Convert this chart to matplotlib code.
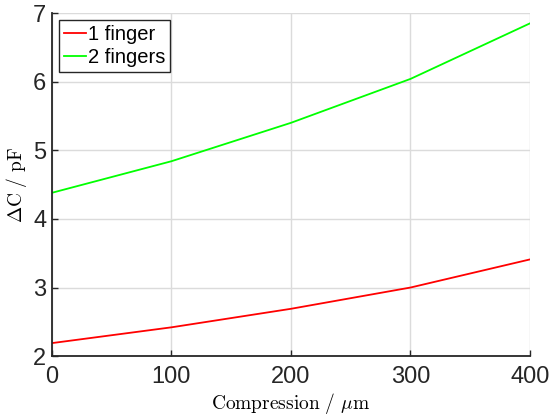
import matplotlib
matplotlib.use('Agg')
import matplotlib.pyplot as plt

# Capacitance change vs compression
compression = [0, 100, 200, 300, 400]
one_finger = [2.19, 2.42, 2.69, 3.00, 3.41]
two_fingers = [4.38, 4.84, 5.40, 6.04, 6.85]

plt.rcParams.update({
    'font.family': 'Liberation Sans',
    'mathtext.fontset': 'cm',
    'axes.edgecolor': '0.15',
    'xtick.color': '0.15',
    'ytick.color': '0.15',
})

fig = plt.figure(figsize=(5.51, 4.2), dpi=100)
ax = fig.add_axes([0.094, 0.152, 0.868, 0.817])

ax.plot(compression, one_finger, color='#ff0000', lw=1.3, label='1 finger')
ax.plot(compression, two_fingers, color='#00ff00', lw=1.3, label='2 fingers')

ax.set_xlim(0, 400)
ax.set_ylim(2, 7)
ax.set_xticks([0, 100, 200, 300, 400])
ax.set_yticks([2, 3, 4, 5, 6, 7])
ax.grid(True, color='0.86', lw=1.0)
ax.set_axisbelow(True)
for side in ['top', 'right']:
    ax.spines[side].set_visible(False)
for side in ['left', 'bottom']:
    ax.spines[side].set_linewidth(1.3)
ax.tick_params(direction='in', length=4, width=1.0, labelsize=17)
ax.tick_params(axis='x', pad=7)
ax.tick_params(axis='y', pad=4)

ax.set_xlabel(r'$\mathrm{Compression}\ /\ \mu\mathrm{m}$', fontsize=14, labelpad=2)
ax.set_ylabel(r'$\Delta\mathrm{C}\ /\ \mathrm{pF}$', fontsize=14, labelpad=3)

leg = ax.legend(loc='upper left', fontsize=14.5, fancybox=False, framealpha=1,
                handlelength=1.1, handletextpad=0.1, borderpad=0.25,
                labelspacing=0.2, borderaxespad=0.35)
leg.get_frame().set_edgecolor('0.15')
leg.get_frame().set_linewidth(1.0)

fig.savefig('out.png', dpi=100)
